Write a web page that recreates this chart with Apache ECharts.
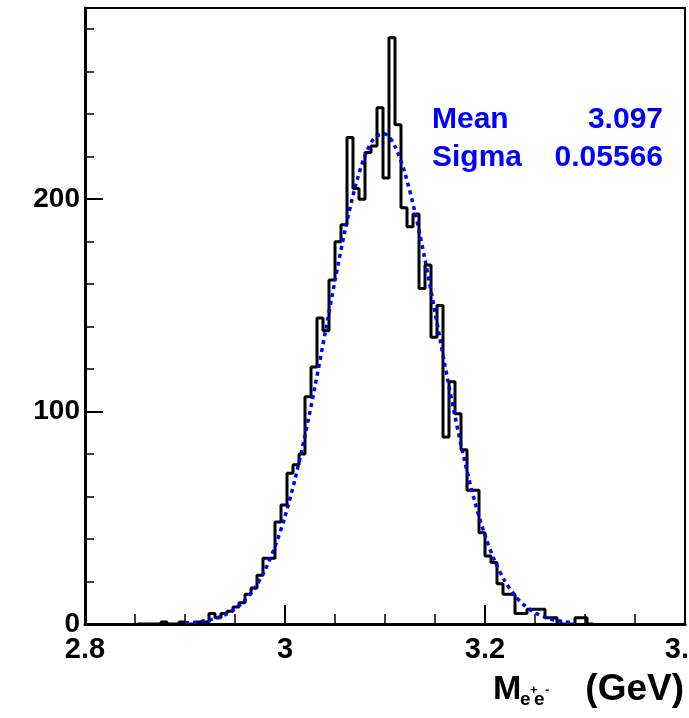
<!DOCTYPE html>
<html>
<head>
<meta charset="utf-8">
<script src="https://cdn.jsdelivr.net/npm/echarts@6/dist/echarts.min.js"></script>
<style>
  html, body { margin: 0; padding: 0; background: #fff; }
  #chart { width: 689px; height: 718px; }
</style>
</head>
<body>
<div id="chart"></div>
<script>
// ---- data ----
// histogram: lower edge of first bin, bin width (GeV), counts per bin
const binStart = 2.852;
const binWidth = 0.006;
const counts = [
  0, 0, 0, 0, 1, 0, 0, 1, 0, 0,
  1, 1, 5, 3, 5, 6, 8, 10, 14, 17,
  23, 31, 31, 48, 56, 71, 75, 80, 107, 121,
  144, 138, 162, 180, 188, 229, 205, 200, 222, 225,
  243, 210, 276, 235, 196, 187, 193, 158, 169, 135,
  150, 88, 114, 99, 82, 63, 63, 43, 32, 29,
  19, 14, 14, 5, 5, 7, 7, 7, 3, 3,
  0, 0, 0, 3, 3, 0
];
// gaussian fit curve (dashed blue)
const fitX = [2.90, 2.91, 2.92, 2.93, 2.94, 2.95, 2.96, 2.97, 2.98, 2.99,
              3.00, 3.01, 3.02, 3.03, 3.04, 3.05, 3.06, 3.07, 3.08, 3.09,
              3.10, 3.11, 3.12, 3.13, 3.14, 3.15, 3.16, 3.17, 3.18, 3.19,
              3.20, 3.21, 3.22, 3.23, 3.24, 3.25, 3.26, 3.27, 3.28, 3.29];
const fitY = [0.4, 0.8, 1.5, 2.6, 4.3, 7.1, 11.2, 17.1, 25.4, 36.4,
              50.6, 68.1, 88.7, 111.9, 136.7, 161.7, 185.2, 205.4, 220.5, 229.2,
              230.7, 224.8, 212.1, 193.8, 171.4, 146.8, 121.7, 97.7, 76.0, 57.2,
              41.7, 29.4, 20.1, 13.3, 8.5, 5.3, 3.2, 1.8, 1.0, 0.6];
// axis ranges and stats box
const xRange = [2.8, 3.4];
const yRange = [0, 290];
const yLabelTicks = [0, 100, 200];
const statNames = ['Mean', 'Sigma'];
const statValues = ['3.097', '0.05566'];

// ---- build ----
const FONT = "'Liberation Sans', Arial, Helvetica, sans-serif";
const histData = counts.map((c, i) => [+(binStart + i * binWidth).toFixed(4), c]);
histData.push([+(binStart + counts.length * binWidth).toFixed(4), 0]);
const fitData = fitX.map((x, i) => [x, fitY[i]]);

const chart = echarts.init(document.getElementById('chart'), null, { renderer: 'canvas' });

const statGraphics = [];
statNames.forEach((n, i) => {
  const y = 120 + i * 37.5;
  statGraphics.push({
    type: 'text', left: 432, top: y - 15, z: 100,
    style: { text: n, fill: '#0000ff', font: `bold 30px ${FONT}` }
  });
  statGraphics.push({
    type: 'text', right: 689 - 663, top: y - 15, z: 100,
    style: { text: statValues[i], fill: '#0000ff', font: `bold 30px ${FONT}`, textAlign: 'right' }
  });
});

const titleGraphics = [
  { type: 'text', x: 493, y: 673, style: { text: 'M', fill: '#000', font: `bold 34px ${FONT}` } },
  { type: 'text', x: 520, y: 690, style: { text: 'e', fill: '#000', font: `bold 19px ${FONT}` } },
  { type: 'text', x: 530, y: 684, style: { text: '+', fill: '#000', font: `bold 13px ${FONT}` } },
  { type: 'text', x: 534, y: 690, style: { text: 'e', fill: '#000', font: `bold 19px ${FONT}` } },
  { type: 'text', x: 545, y: 684, style: { text: '-', fill: '#000', font: `bold 13px ${FONT}` } },
  { type: 'text', right: 5, y: 671, style: { text: '(GeV)', fill: '#000', font: `bold 37px ${FONT}`, textAlign: 'right' } }
];

const option = {
  animation: false,
  backgroundColor: '#ffffff',
  grid: {
    left: 85, right: 4, top: 8, bottom: 94,
    outerBoundsMode: 'none', containLabel: false,
    show: true, borderColor: '#000', borderWidth: 2, backgroundColor: 'transparent'
  },
  xAxis: {
    type: 'value', min: xRange[0], max: xRange[1], interval: 0.2,
    axisLine: { show: true, onZero: false, lineStyle: { color: '#000', width: 3 } },
    axisTick: { show: true, inside: true, length: 19, lineStyle: { color: '#000', width: 2 } },
    minorTick: { show: true, splitNumber: 4, length: 10, lineStyle: { color: '#000', width: 1.5 } },
    axisLabel: {
      color: '#000', fontFamily: FONT, fontWeight: 'bold', fontSize: 29, margin: 11,
      hideOverlap: false,
      formatter: v => String(+v.toFixed(2))
    },
    splitLine: { show: false }, minorSplitLine: { show: false }
  },
  yAxis: [
    {
      type: 'value', min: yRange[0], max: yRange[1], interval: 20, position: 'left',
      axisLine: { show: true, onZero: false, lineStyle: { color: '#000', width: 3 } },
      axisTick: { show: true, inside: true, length: 9, lineStyle: { color: '#000', width: 1.5 } },
      axisLabel: { show: false },
      splitLine: { show: false }
    },
    {
      type: 'value', min: yRange[0], max: yRange[1], interval: 100, position: 'left',
      axisLine: { show: false },
      axisTick: { show: true, inside: true, length: 18, lineStyle: { color: '#000', width: 2 } },
      axisLabel: {
        color: '#000', fontFamily: FONT, fontWeight: 'bold', fontSize: 28, margin: 5,
        showMaxLabel: false,
        formatter: v => (yLabelTicks.indexOf(v) >= 0 ? String(v) : '')
      },
      splitLine: { show: false }
    }
  ],
  series: [
    {
      name: 'hist', type: 'line', step: 'end', yAxisIndex: 0,
      data: histData, showSymbol: false, symbol: 'none',
      lineStyle: { color: '#000', width: 3 }, z: 3
    },
    {
      name: 'fit', type: 'line', yAxisIndex: 0, smooth: 0.3,
      data: fitData, showSymbol: false, symbol: 'none',
      lineStyle: { color: '#0000ff', width: 3.5, type: [4, 4] }, z: 4
    }
  ],
  graphic: statGraphics.concat(titleGraphics)
};
chart.setOption(option);
</script>
</body>
</html>
